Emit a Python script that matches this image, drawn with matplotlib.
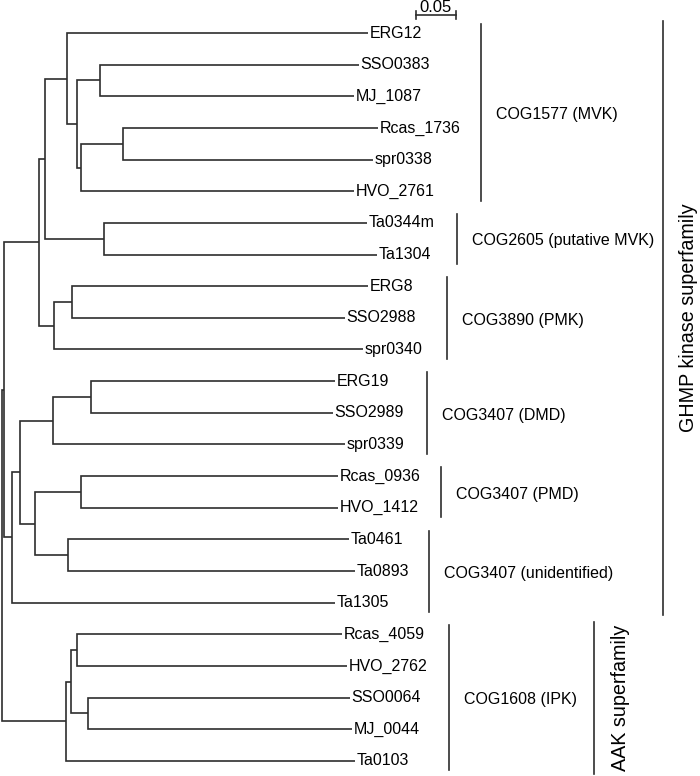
import numpy as np
import matplotlib
matplotlib.use("Agg")
import matplotlib.pyplot as plt

plt.rcParams['font.family'] = ['Liberation Sans', 'DejaVu Sans']

# Tree: node name, parent, branch length (substitutions/site)
# leaves are listed in top-to-bottom display order
node = ["root", "GHMP", "AAK",
        "C", "B", "A", "ERG12", "N1", "N2", "SSO0383", "MJ_1087",
        "N3", "N4", "Rcas_1736", "spr0338", "HVO_2761",
        "T", "Ta0344m", "Ta1304",
        "PMK", "P1", "ERG8", "SSO2988", "spr0340",
        "F", "D", "DMD", "M1", "ERG19", "SSO2989", "spr0339",
        "E", "PMD", "Rcas_0936", "HVO_1412",
        "U", "Ta0461", "Ta0893", "Ta1305",
        "H", "K1", "Rcas_4059", "HVO_2762", "K2", "SSO0064", "MJ_0044", "Ta0103"]
parent = [None, "root", "root",
          "GHMP", "C", "B", "A", "A", "N1", "N2", "N2",
          "N1", "N3", "N4", "N4", "N3",
          "B", "T", "T",
          "C", "PMK", "P1", "P1", "PMK",
          "GHMP", "F", "D", "DMD", "M1", "M1", "DMD",
          "D", "E", "PMD", "PMD",
          "E", "U", "U", "F",
          "AAK", "H", "K1", "K1", "H", "K2", "K2", "AAK"]
branch_len = [0.0, 0.0025, 0.0800,
              0.0438, 0.0075, 0.0275, 0.3763, 0.0125, 0.0288, 0.3238, 0.3175,
              0.0050, 0.0525, 0.3188, 0.3125, 0.3413,
              0.0738, 0.3288, 0.3413,
              0.0188, 0.0225, 0.3700, 0.3413, 0.3863,
              0.0100, 0.0100, 0.0413, 0.0475, 0.3050, 0.3025, 0.3650,
              0.0188, 0.0575, 0.3213, 0.3213,
              0.0413, 0.3513, 0.3588, 0.4038,
              0.0063, 0.0075, 0.3313, 0.3375, 0.0213, 0.3275, 0.3300, 0.3613]

group_labels = ["COG1577 (MVK)", "COG2605 (putative MVK)", "COG3890 (PMK)",
                "COG3407 (DMD)", "COG3407 (PMD)", "COG3407 (unidentified)",
                "COG1608 (IPK)"]
group_first = ["ERG12", "Ta0344m", "ERG8", "ERG19", "Rcas_0936", "Ta0461", "Rcas_4059"]
group_last = ["HVO_2761", "Ta1304", "spr0340", "spr0339", "HVO_1412", "Ta1305", "Ta0103"]

family_labels = ["GHMP kinase superfamily", "AAK superfamily"]
family_first = ["ERG12", "Rcas_4059"]
family_last = ["Ta1305", "Ta0103"]

scale_len = 0.05

# layout (pixel positions of bracket lines)
group_line_px = [481, 457, 447, 427, 441, 429, 449]
family_line_px = [663, 594]
family_text_px = [689, 620]

# ---- compute tree coordinates
children = {n: [] for n in node}
for n, p in zip(node, parent):
    if p is not None:
        children[p].append(n)
blen = dict(zip(node, branch_len))
par = dict(zip(node, parent))

xpos, ypos = {}, {}
leaf_i = [0]


def place(n, x0):
    xpos[n] = x0 + blen[n]
    if not children[n]:
        ypos[n] = leaf_i[0]
        leaf_i[0] += 1
    else:
        for c in children[n]:
            place(c, xpos[n])
        ys = [ypos[c] for c in children[n]]
        ypos[n] = (min(ys) + max(ys)) / 2


place("root", 0.0)

px = 1 / 800.0   # one pixel in data units
lc = '#2e2e2e'
lw = 1.2

fig = plt.figure(figsize=(7, 7.76), dpi=100)
ax = fig.add_axes([0, 0, 1, 1])
ax.set_xlim(-2 * px, 698 * px)
ax.set_ylim(23.476, -1.043)
ax.axis('off')

for n in node:
    p = par[n]
    if p is None:
        continue
    ax.plot([xpos[p], xpos[p], xpos[n]], [ypos[p], ypos[n], ypos[n]],
            color=lc, lw=lw, solid_joinstyle='miter', solid_capstyle='butt')
    if not children[n]:
        ax.text(xpos[n] + 1.5 * px, ypos[n], n, fontsize=11.5, va='center', ha='left')

# groups
for lab, a, b, lx in zip(group_labels, group_first, group_last, group_line_px):
    y0, y1 = ypos[a] - 0.28, ypos[b] + 0.3
    x = (lx - 2) * px
    ax.plot([x, x], [y0, y1], color=lc, lw=lw)
    ax.text(x + 15 * px, (ypos[a] + ypos[b]) / 2 + 0.07, lab, fontsize=11.5,
            va='center', ha='left')

for lab, a, b, lx, tx in zip(family_labels, family_first, family_last,
                             family_line_px, family_text_px):
    y0, y1 = ypos[a] - 0.38, ypos[b] + 0.4
    x = (lx - 2) * px
    ax.plot([x, x], [y0, y1], color=lc, lw=lw)
    ax.text((tx - 2) * px, (y0 + y1) / 2, lab, fontsize=14.2, rotation=90,
            va='center', ha='center')

# scale bar
sx = 414 * px
sy = -0.569
ax.plot([sx, sx + scale_len], [sy, sy], color=lc, lw=lw)
for xx in (sx, sx + scale_len):
    ax.plot([xx, xx], [sy - 0.13, sy + 0.13], color=lc, lw=lw)
ax.text(sx + scale_len / 2, -0.66, f"{scale_len:.2f}", fontsize=12,
        ha='center', va='baseline')

fig.savefig("out.png", dpi=100)
